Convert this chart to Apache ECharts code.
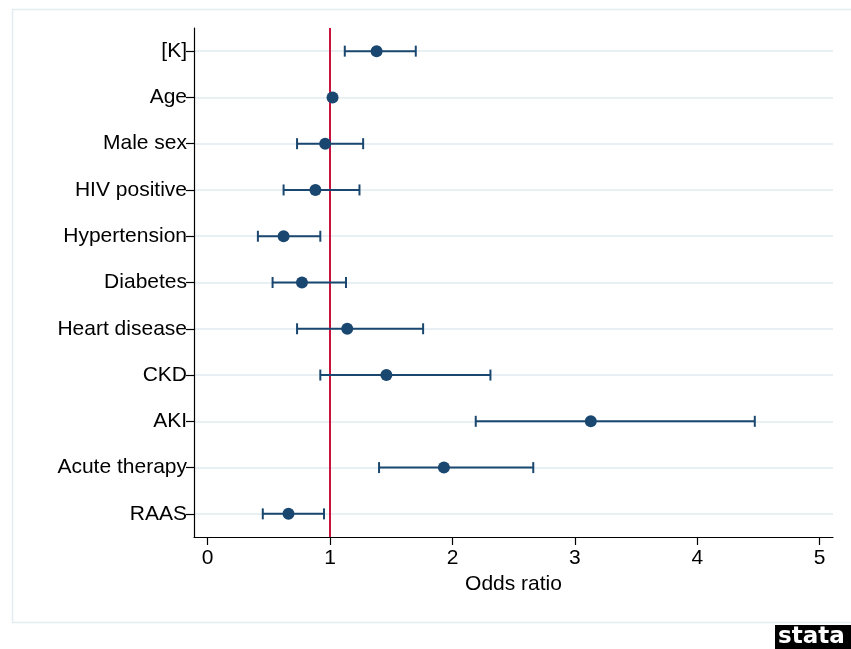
<!DOCTYPE html>
<html>
<head>
<meta charset="utf-8">
<script src="https://cdn.jsdelivr.net/npm/echarts@6/dist/echarts.min.js"></script>
<style>
html,body{margin:0;padding:0;background:#fff;}
#chart{width:851px;height:649px;}
</style>
</head>
<body>
<div id="chart"></div>
<script>
const categories = ['[K]', 'Age', 'Male sex', 'HIV positive', 'Hypertension', 'Diabetes', 'Heart disease', 'CKD', 'AKI', 'Acute therapy', 'RAAS'];
const oddsRatio = [1.38, 1.02, 0.96, 0.88, 0.62, 0.77, 1.14, 1.46, 3.13, 1.93, 0.66];
const ciLower   = [1.12, 1.01, 0.73, 0.62, 0.41, 0.53, 0.73, 0.92, 2.19, 1.40, 0.45];
const ciUpper   = [1.70, 1.03, 1.27, 1.24, 0.92, 1.13, 1.76, 2.31, 4.47, 2.66, 0.95];
const xTicks = [0, 1, 2, 3, 4, 5];
const refValue = 1;
const xTitle = 'Odds ratio';

const navy = '#1a476f';
const font = "'Liberation Sans', Arial, sans-serif";

const chart = echarts.init(document.getElementById('chart'), null, {renderer: 'canvas'});

const ciData = categories.map((c, i) => [ciLower[i], ciUpper[i], i]);
const pointData = categories.map((c, i) => [oddsRatio[i], i]);

const option = {
  backgroundColor: '#ffffff',
  animation: false,
  grid: {left: 194, right: 18, top: 28, bottom: 112, containLabel: false},
  xAxis: {
    type: 'value',
    min: -0.112,
    max: 5.109,
    name: xTitle,
    nameLocation: 'middle',
    nameGap: 31,
    nameTextStyle: {fontSize: 21, color: '#000', fontFamily: font},
    axisLine: {show: true, onZero: false, lineStyle: {color: '#000', width: 1.2}},
    axisTick: {show: true, length: 8, lineStyle: {color: '#000', width: 1.2}, customValues: xTicks},
    axisLabel: {fontSize: 21, color: '#000', fontFamily: font, margin: 11, customValues: xTicks},
    splitLine: {show: false}
  },
  yAxis: {
    type: 'category',
    data: categories,
    inverse: true,
    boundaryGap: true,
    axisLine: {show: true, onZero: false, lineStyle: {color: '#000', width: 1.2}},
    axisTick: {show: true, length: 8, alignWithLabel: true, lineStyle: {color: '#000', width: 1.2}},
    axisLabel: {fontSize: 21, color: '#000', fontFamily: font, margin: 7, interval: 0},
    splitLine: {show: true, alignWithLabel: true, lineStyle: {color: '#e9f0f4', width: 2}}
  },
  graphic: [
    {type: 'rect', left: 10, top: 7, shape: {width: 900, height: 613}, style: {fill: 'none', stroke: '#e3edf0', lineWidth: 1.5}, silent: true, z: -1},
    {type: 'rect', left: 775, top: 625, shape: {width: 76, height: 24}, style: {fill: '#000'}, silent: true},
    {type: 'text', left: 778, top: 626, style: {text: 'stata', fill: '#fff', font: "bold 23px 'DejaVu Sans'"}, silent: true}
  ],
  series: [
    {
      type: 'custom',
      coordinateSystem: 'cartesian2d',
      data: ciData,
      encode: {x: [0, 1], y: 2},
      renderItem: function (params, api) {
        const lo = api.coord([api.value(0), api.value(2)]);
        const hi = api.coord([api.value(1), api.value(2)]);
        const h = 5.5;
        const st = {stroke: navy, lineWidth: 2, fill: 'none'};
        return {
          type: 'group',
          children: [
            {type: 'line', shape: {x1: lo[0], y1: lo[1], x2: hi[0], y2: hi[1]}, style: st},
            {type: 'line', shape: {x1: lo[0], y1: lo[1] - h, x2: lo[0], y2: lo[1] + h}, style: st},
            {type: 'line', shape: {x1: hi[0], y1: hi[1] - h, x2: hi[0], y2: hi[1] + h}, style: st}
          ]
        };
      },
      z: 3
    },
    {
      type: 'scatter',
      data: pointData,
      symbol: 'circle',
      symbolSize: 12,
      itemStyle: {color: navy, opacity: 1},
      z: 4,
      markLine: {
        silent: true,
        symbol: ['none', 'none'],
        label: {show: false},
        lineStyle: {color: '#c8143c', width: 2, type: 'solid'},
        data: [{xAxis: refValue}],
        z: 2
      }
    }
  ]
};
chart.setOption(option);
</script>
</body>
</html>
